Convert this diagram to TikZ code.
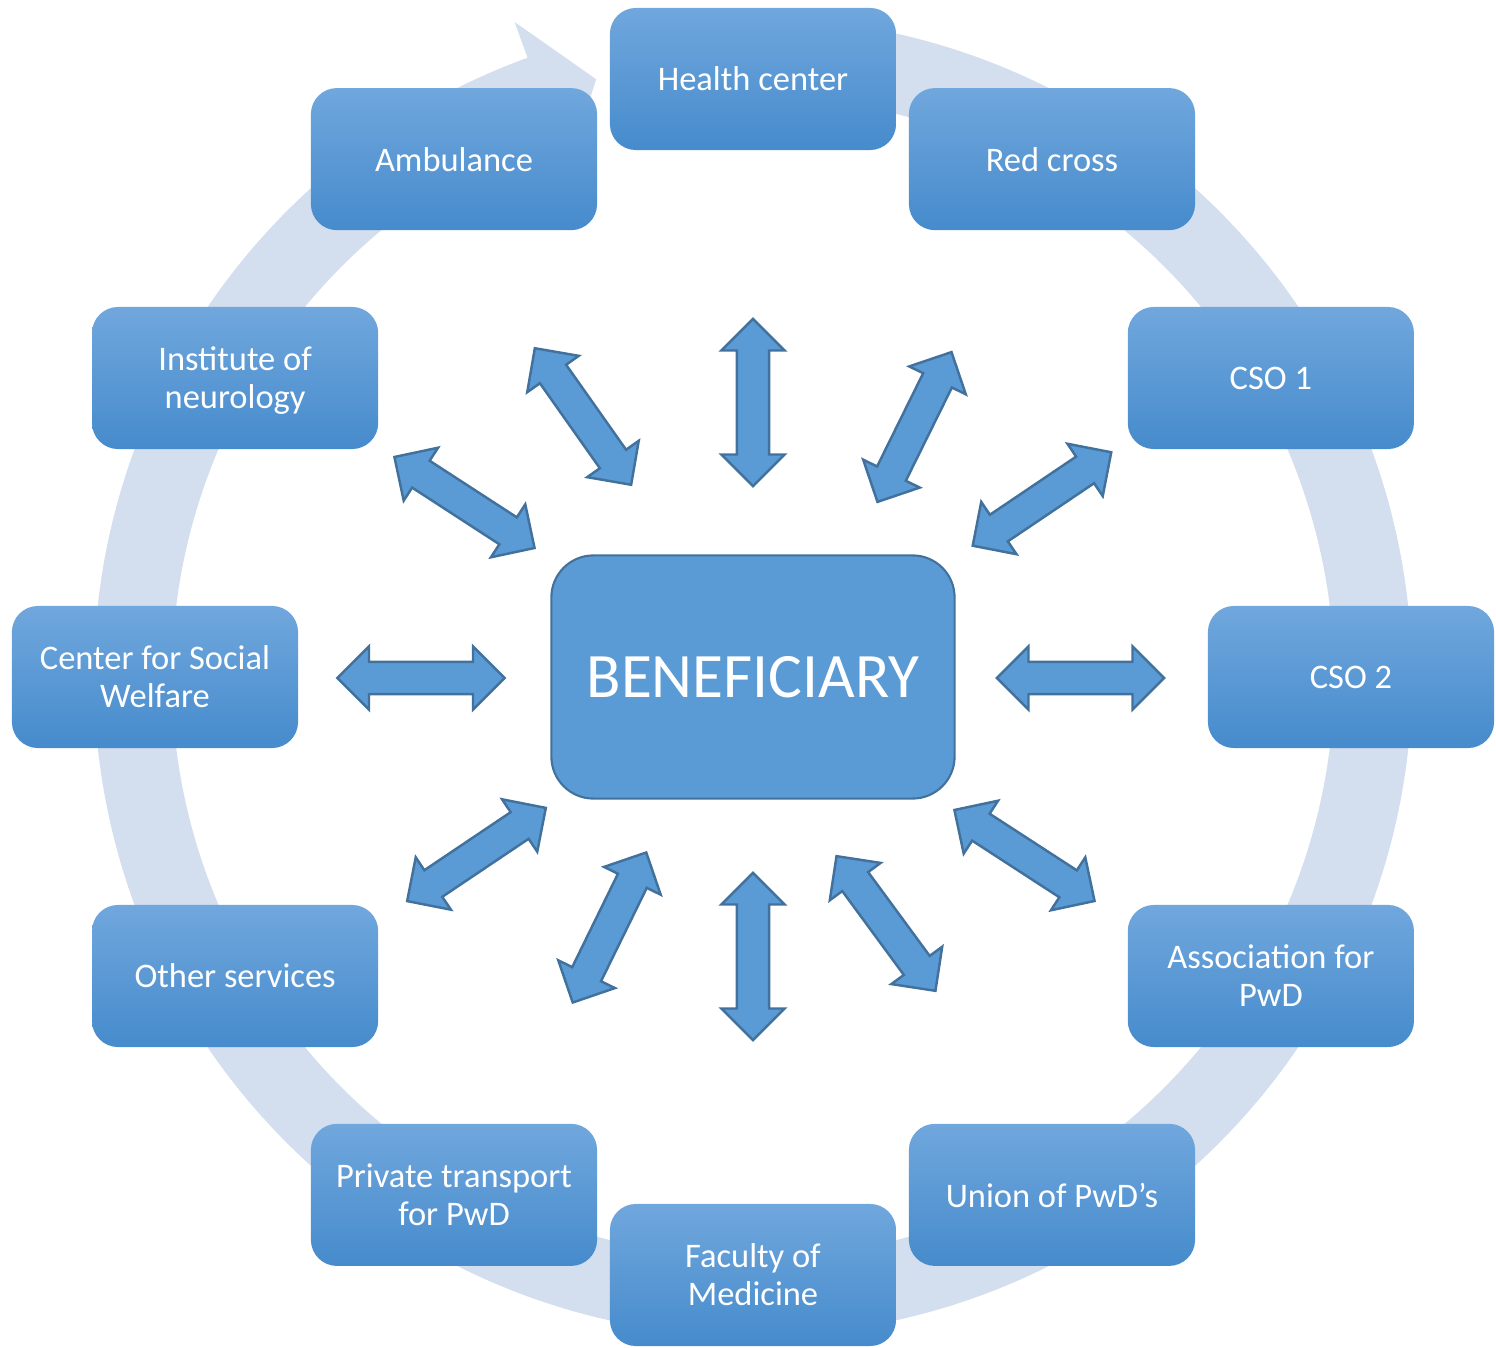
\documentclass[tikz,border=0pt]{standalone}
\usepackage{fontspec}
\setmainfont{Carlito}
\usetikzlibrary{shapes.arrows}
\definecolor{ringblue}{RGB}{211,222,239}
\definecolor{boxtop}{RGB}{112,167,221}
\definecolor{boxbottom}{RGB}{70,139,204}
\definecolor{hubfill}{RGB}{91,155,213}
\definecolor{hubline}{RGB}{65,113,156}
\tikzset{
  box/.style={rectangle, rounded corners=0.26cm, top color=boxtop, bottom color=boxbottom,
    minimum width=2.86cm, minimum height=1.42cm, inner sep=0pt, text=white, align=center,
    text depth=0pt, font=\fontsize{9.8pt}{10.8pt}\selectfont},
  hub/.style={rectangle, rounded corners=0.42cm, fill=hubfill, draw=hubline, line width=0.6pt,
    minimum width=4.03cm, minimum height=2.43cm, text=white, font=\fontsize{18pt}{20pt}\selectfont},
  dblarrow/.style={double arrow, fill=hubfill, draw=hubline, line width=0.7pt,
    inner xsep=0pt, inner ysep=0.148cm, double arrow head extend=0.155cm, minimum height=1.67cm}
}
\begin{document}
\begin{tikzpicture}[x=0.01cm, y=0.01cm]
\useasboundingbox (-753,-671) rectangle (743,677);
\fill[ringblue] (100:659) arc[start angle=100, end angle=-250, radius=659]
  -- (-250:697) -- (-255.3:618) -- (-250:541) -- (-250:581)
  arc[start angle=-250, end angle=100, radius=581] -- cycle;
\node[hub] (benef) at (0,0) {BENEFICIARY};
\node[box] (health) at (90:598) {Health center};
\node[box] (redcross) at (60:598) {Red cross};
\node[box] (csoA) at (30:598) {CSO 1};
\node[box] (csoB) at (0:598) {CSO 2};
\node[box] (assoc) at (-30:598) {Association for\\PwD};
\node[box] (union) at (-60:598) {Union of PwD’s};
\node[box] (faculty) at (-90:598) {Faculty of\\Medicine};
\node[box] (private) at (-120:598) {Private transport\\for PwD};
\node[box] (other) at (-150:598) {Other services};
\node[box] (welfare) at (180:598) {Center for Social\\Welfare};
\node[box] (neuro) at (150:598) {Institute of\\neurology};
\node[box] (ambulance) at (120:598) {Ambulance};
\node[dblarrow, rotate=90] (arHealth) at (0,274.5) {};
\node[dblarrow, rotate=63.7] (arRed) at (161.5,250) {};
\node[dblarrow, rotate=34] (arCsoA) at (289,178) {};
\node[dblarrow] (arCsoB) at (327.5,-1) {};
\node[dblarrow, rotate=-33] (arAssoc) at (271.5,-178.5) {};
\node[dblarrow, rotate=-53.7] (arUnion) at (133,-246.5) {};
\node[dblarrow, rotate=90] (arFaculty) at (0,-279.5) {};
\node[dblarrow, rotate=63.9] (arPrivate) at (-143.5,-250.5) {};
\node[dblarrow, rotate=33.9] (arOther) at (-276.5,-177.5) {};
\node[dblarrow] (arWelfare) at (-332,-1) {};
\node[dblarrow, rotate=-33] (arNeuro) at (-288.5,174.5) {};
\node[dblarrow, rotate=-54.8] (arAmbulance) at (-170,260.5) {};
\end{tikzpicture}
\end{document}
